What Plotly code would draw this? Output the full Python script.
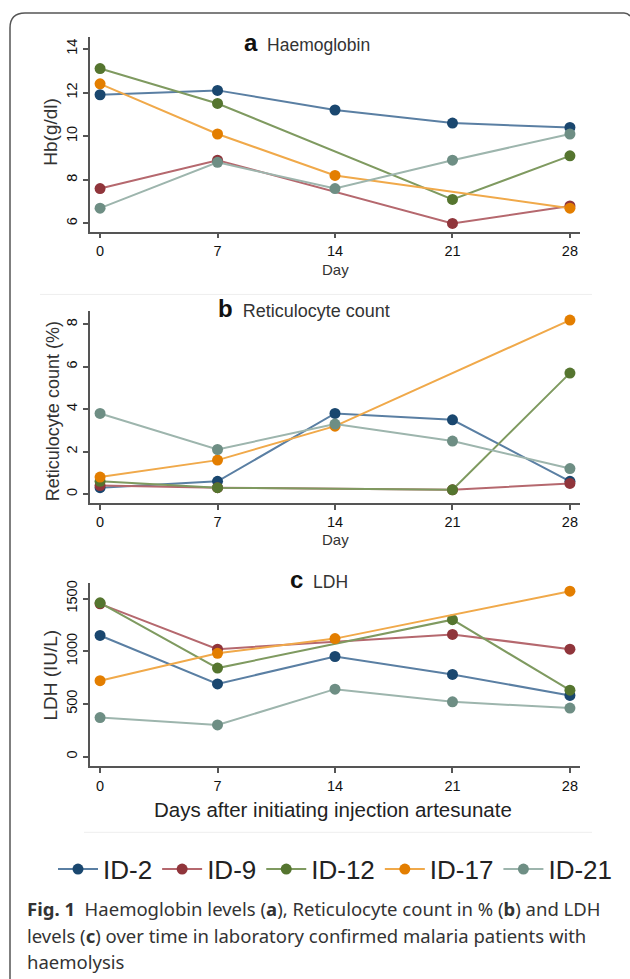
import plotly.graph_objects as go

W, H = 630, 979

days = [0, 7, 14, 21, 28]
patients = ["ID-2", "ID-9", "ID-12", "ID-17", "ID-21"]
marker_colors = ["#1a476f", "#90353b", "#55752f", "#e37e00", "#6e8e84"]
line_colors = ["#5a7fa3", "#b5686e", "#7f9a60", "#f0a94a", "#9db5ad"]

# Panel a: Haemoglobin (g/dl)
hb_id2 = [11.9, 12.1, 11.2, 10.6, 10.4]
hb_id9 = [7.6, 8.9, None, 6.0, 6.8]
hb_id12 = [13.1, 11.5, None, 7.1, 9.1]
hb_id17 = [12.4, 10.1, 8.2, None, 6.7]
hb_id21 = [6.7, 8.8, 7.6, 8.9, 10.1]

# Panel b: Reticulocyte count (%)
ret_id2 = [0.3, 0.6, 3.8, 3.5, 0.6]
ret_id9 = [0.4, 0.3, None, 0.2, 0.5]
ret_id12 = [0.6, 0.3, None, 0.2, 5.7]
ret_id17 = [0.8, 1.6, 3.2, None, 8.2]
ret_id21 = [3.8, 2.1, 3.3, 2.5, 1.2]

# Panel c: LDH (IU/L)
ldh_id2 = [1150, 690, 950, 780, 580]
ldh_id9 = [1450, 1020, None, 1160, 1020]
ldh_id12 = [1460, 840, None, 1300, 630]
ldh_id17 = [720, 980, 1120, None, 1570]
ldh_id21 = [370, 300, 640, 520, 460]

hb_ticks = [6, 8, 10, 12, 14]
ret_ticks = [0, 2, 4, 6, 8]
ldh_ticks = [0, 500, 1000, 1500]

panels = [
    ([hb_id2, hb_id9, hb_id12, hb_id17, hb_id21], "x", "y"),
    ([ret_id2, ret_id9, ret_id12, ret_id17, ret_id21], "x2", "y2"),
    ([ldh_id2, ldh_id9, ldh_id12, ldh_id17, ldh_id21], "x3", "y3"),
]


def px(x):
    return x / W


def py(y):
    return 1 - y / H


fig = go.Figure()
for pi, (series, xa, ya) in enumerate(panels):
    for i, vals in enumerate(series):
        fig.add_trace(go.Scatter(
            x=days, y=vals, xaxis=xa, yaxis=ya,
            mode="lines+markers", connectgaps=True,
            name=patients[i], legendgroup=patients[i],
            showlegend=(pi == 0),
            line=dict(color=line_colors[i], width=2),
            marker=dict(color=marker_colors[i], size=11),
        ))

tick_font = dict(family="Liberation Sans, Arial", size=14.5, color="#111")
axis_common = dict(showline=True, linecolor="#555", linewidth=1.5, ticks="outside",
                   ticklen=5, tickcolor="#555", tickwidth=1.5, showgrid=False,
                   zeroline=False, tickfont=tick_font)

xdom = [px(90), px(580)]
fig.update_layout(
    width=W, height=H,
    margin=dict(l=0, r=0, t=0, b=0),
    paper_bgcolor="white", plot_bgcolor="white",
    xaxis=dict(domain=xdom, range=[-0.6, 28.6], tickvals=days, anchor="y", **axis_common),
    yaxis=dict(domain=[py(230), py(35)], range=[5.63, 14.55], tickvals=hb_ticks,
               tickangle=-90, anchor="x", **axis_common),
    xaxis2=dict(domain=xdom, range=[-0.6, 28.6], tickvals=days, anchor="y2", **axis_common),
    yaxis2=dict(domain=[py(502), py(310)], range=[-0.42, 8.61], tickvals=ret_ticks,
                tickangle=-90, anchor="x2", **axis_common),
    xaxis3=dict(domain=xdom, range=[-0.6, 28.6], tickvals=days, anchor="y3", **axis_common),
    yaxis3=dict(domain=[py(766), py(582)], range=[-94, 1650], tickvals=ldh_ticks,
                tickangle=-90, anchor="x3", **axis_common),
    legend=dict(orientation="h", x=px(53), xanchor="left", y=py(869), yanchor="middle",
                font=dict(family="Liberation Sans, Arial", size=26, color="#222"),
                itemwidth=40, tracegroupgap=0, bgcolor="rgba(0,0,0,0)"),
)

lab_font = dict(family="Liberation Sans, Arial", size=15, color="#333")
title_font = dict(family="Liberation Sans, Arial", size=17.5, color="#333")
annotations = [
    # panel titles
    dict(x=px(242), y=py(41), text="<b><span style='font-size:24px;color:#111'>a</span></b>  Haemoglobin",
         xanchor="left", yanchor="middle", font=title_font),
    dict(x=px(216), y=py(307), text="<b><span style='font-size:24px;color:#111'>b</span></b>  Reticulocyte count",
         xanchor="left", yanchor="middle", font=dict(family="Liberation Sans, Arial", size=18, color="#333")),
    dict(x=px(288), y=py(579), text="<b><span style='font-size:24px;color:#111'>c</span></b>  LDH",
         xanchor="left", yanchor="middle", font=title_font),
    # axis titles
    dict(x=px(51), y=py(130), text="Hb(g/dl)", textangle=-90, xanchor="center", yanchor="middle",
         font=dict(family="Liberation Sans, Arial", size=19, color="#333")),
    dict(x=px(53), y=py(410), text="Reticulocyte count (%)", textangle=-90, xanchor="center", yanchor="middle",
         font=dict(family="Liberation Sans, Arial", size=18, color="#333")),
    dict(x=px(51), y=py(675), text="LDH (IU/L)", textangle=-90, xanchor="center", yanchor="middle",
         font=dict(family="Liberation Sans, Arial", size=19, color="#333")),
    dict(x=px(335), y=py(268), text="Day", xanchor="center", yanchor="middle", font=lab_font),
    dict(x=px(335), y=py(539), text="Day", xanchor="center", yanchor="middle", font=lab_font),
    dict(x=px(333), y=py(809), text="Days after initiating injection artesunate", xanchor="center",
         yanchor="middle", font=dict(family="Liberation Sans, Arial", size=20.5, color="#222")),
]
cap_font = dict(family="Noto Sans, Open Sans", size=18.5, color="#333")
cap_lines = [
    "<b>Fig. 1</b>  Haemoglobin levels (<b>a</b>), Reticulocyte count in % (<b>b</b>) and LDH",
    "levels (<b>c</b>) over time in laboratory confirmed malaria patients with",
    "haemolysis",
]
for t, yy in zip(cap_lines, [908, 935, 961]):
    annotations.append(dict(x=px(25), y=py(yy), text=t, xanchor="left", yanchor="middle", font=cap_font))

for a in annotations:
    a.update(xref="paper", yref="paper", showarrow=False)
fig.update_layout(annotations=annotations)

# frame and faint separators
frame = (f"M {px(10)},{py(990)} L {px(10)},{py(26)} Q {px(10)},{py(11)} {px(25)},{py(11)} "
         f"L {px(624)},{py(11)} Q {px(628)},{py(11)} {px(630)},{py(14)}")
fig.add_shape(type="path", path=frame, xref="paper", yref="paper",
              line=dict(color="#555", width=1.5))
for yy, x0, x1 in [(293, 40, 592), (832, 84, 592)]:
    fig.add_shape(type="line", xref="paper", yref="paper", x0=px(x0), x1=px(x1), y0=py(yy), y1=py(yy),
                  line=dict(color="#eeeeee", width=1))

fig.write_html("out.html", config={"displayModeBar": False},
               post_script="document.body.style.margin='0';document.body.style.overflow='hidden';")
